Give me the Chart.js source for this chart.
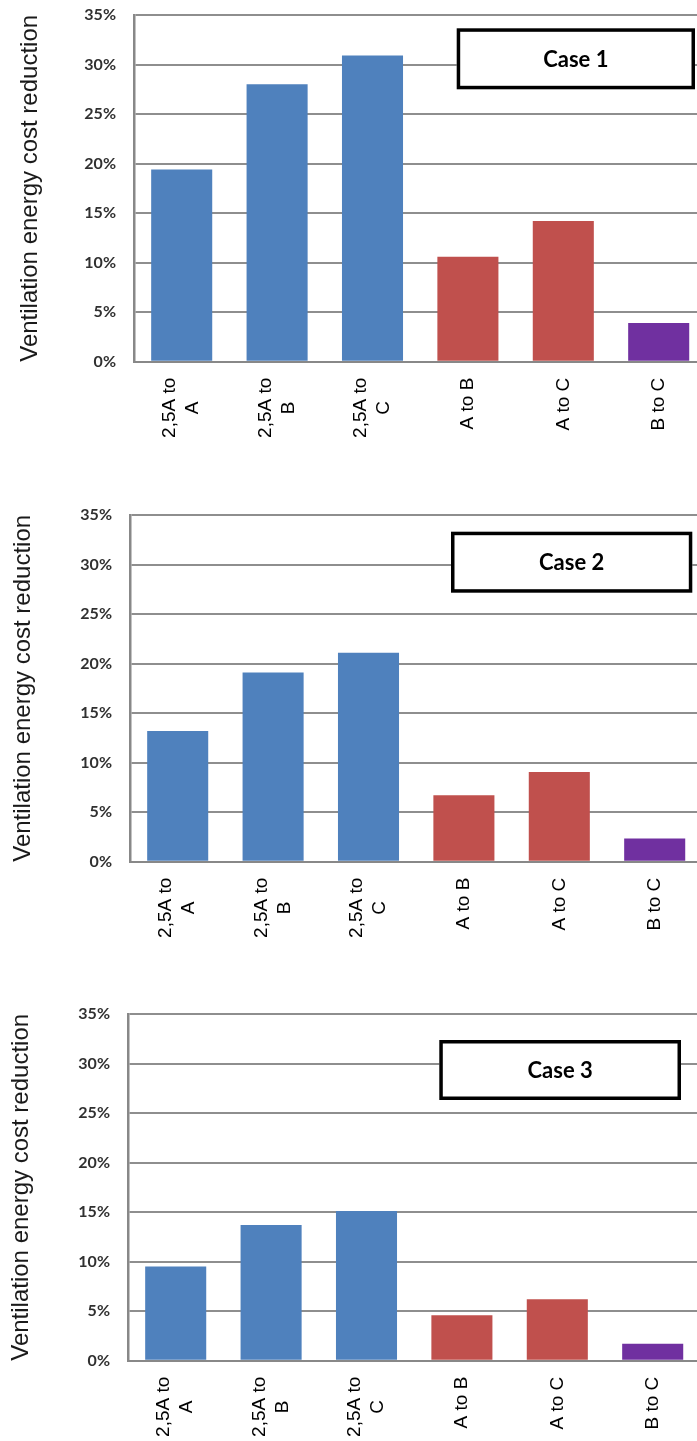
<!DOCTYPE html>
<html>
<head>
<meta charset="utf-8">
<script src="https://cdn.jsdelivr.net/npm/chart.js@4.4.1/dist/chart.umd.min.js"></script>
<style>
  html, body { margin: 0; padding: 0; background: #fff; overflow: hidden; width: 697px; height: 1441px; }
  .panel { position: absolute; width: 720px; height: 442px; }
  canvas { display: block; }
</style>
</head>
<body>
<div class="panel" style="left:0;top:0"><canvas id="case1" width="720" height="442"></canvas></div>
<div class="panel" style="left:-4px;top:500px"><canvas id="case2" width="720" height="442"></canvas></div>
<div class="panel" style="left:-6px;top:999px"><canvas id="case3" width="720" height="442"></canvas></div>
<script>
// Ventilation energy cost reduction (%) per fan-control upgrade
const categories = [["2,5A to", "A"], ["2,5A to", "B"], ["2,5A to", "C"], ["A to B"], ["A to C"], ["B to C"]];
const case1Values = [19.4, 28.0, 30.9, 10.6, 14.2, 3.9];
const case2Values = [13.2, 19.1, 21.1, 6.7, 9.05, 2.35];
const case3Values = [9.5, 13.7, 15.1, 4.6, 6.2, 1.7];
const barColors = ["#4F81BD", "#4F81BD", "#4F81BD", "#C0504D", "#C0504D", "#7030A0"];
const yMin = 0, yMax = 35, yStep = 5;
const yTitle = "Ventilation energy cost reduction";

// Framed case label in the upper right of the plot area
const caseBoxPlugin = {
  id: "caseBox",
  afterDraw(chart, args, opts) {
    const { ctx, chartArea } = chart;
    const x = chartArea.left + opts.left;
    const y = chartArea.top + opts.top;
    const lw = opts.lineWidth;
    ctx.save();
    ctx.fillStyle = "#fff";
    ctx.fillRect(x, y, opts.width, opts.height);
    ctx.lineWidth = lw;
    ctx.strokeStyle = "#000";
    ctx.strokeRect(x + lw / 2, y + lw / 2, opts.width - lw, opts.height - lw);
    ctx.font = "bold 22px Lato";
    ctx.fillStyle = "#000";
    ctx.textAlign = "center";
    ctx.textBaseline = "middle";
    ctx.fillText(opts.text, x + opts.width / 2, y + opts.height / 2 + 1);
    ctx.restore();
  }
};

// Vertical category labels, lines centred on each other, ending just under the axis
const verticalLabelsPlugin = {
  id: "verticalLabels",
  afterDraw(chart, args, opts) {
    const { ctx, chartArea } = chart;
    const xs = chart.scales.x;
    ctx.save();
    ctx.font = opts.font;
    ctx.fillStyle = opts.color;
    ctx.textAlign = "center";
    ctx.textBaseline = "middle";
    chart.data.labels.forEach((label, i) => {
      const lines = Array.isArray(label) ? label : [label];
      const maxW = Math.max(...lines.map(l => ctx.measureText(l).width));
      const cx = xs.getPixelForTick(i);
      ctx.save();
      ctx.translate(cx, chartArea.bottom + opts.gap);
      ctx.rotate(-Math.PI / 2);
      lines.forEach((line, j) => {
        const off = (j - (lines.length - 1) / 2) * opts.lineHeight;
        ctx.fillText(line, -maxW / 2, off);
      });
      ctx.restore();
    });
    ctx.restore();
  }
};

function makeChart(id, values, caseText, box, titlePad) {
  return new Chart(document.getElementById(id), {
    type: "bar",
    data: {
      labels: categories,
      datasets: [{
        data: values,
        backgroundColor: barColors,
        borderWidth: 0,
        barPercentage: 0.64,
        categoryPercentage: 1.0
      }]
    },
    options: {
      responsive: false,
      animation: false,
      devicePixelRatio: 1,
      layout: { padding: { top: 15, right: 13.6, bottom: 0, left: 0 } },
      plugins: {
        legend: { display: false },
        tooltip: { enabled: false },
        caseBox: Object.assign({ text: caseText, lineWidth: 3.5 }, box),
        verticalLabels: { font: "19px 'Liberation Sans'", color: "#000", gap: 16, lineHeight: 23 }
      },
      scales: {
        x: {
          grid: { display: false },
          border: { display: true, color: "#888", width: 2 },
          ticks: { display: false },
          afterFit: s => { s.height = 80.3; s.paddingLeft = 0; s.paddingRight = 0; }
        },
        y: {
          min: yMin,
          max: yMax,
          ticks: {
            stepSize: yStep,
            callback: v => v + "%",
            font: { family: "Lato", weight: "bold", size: 16 },
            color: "#303030",
            padding: 18
          },
          grid: { color: "#8e8e8e", lineWidth: 2, drawTicks: false },
          border: { display: true, color: "#888", width: 2.5 },
          title: {
            display: true,
            text: yTitle,
            font: { family: "Liberation Sans", size: 24 },
            color: "#1a1a1a",
            padding: { top: titlePad, bottom: 0 }
          },
          afterFit: s => { s.width = 134; s.paddingTop = 0; s.paddingBottom = 0; }
        }
      }
    },
    plugins: [caseBoxPlugin, verticalLabelsPlugin]
  });
}

makeChart("case1", case1Values, "Case 1", { left: 322.7, top: 13.3, width: 238.3, height: 61 }, 16);
makeChart("case2", case2Values, "Case 2", { left: 321, top: 16.7, width: 241.3, height: 61 }, 13);
makeChart("case3", case3Values, "Case 3", { left: 311.3, top: 26, width: 241.7, height: 60 }, 13);
</script>
</body>
</html>
